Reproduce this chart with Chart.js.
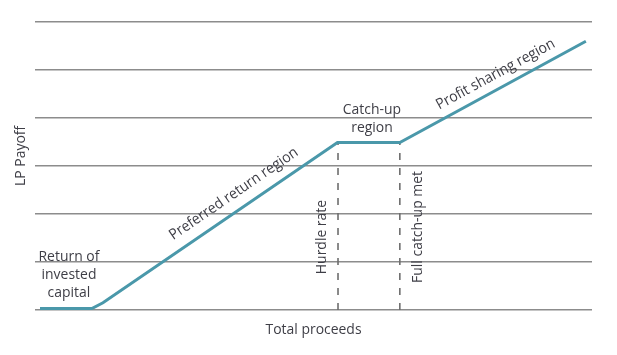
<!DOCTYPE html>
<html>
<head>
<meta charset="utf-8">
<script src="https://cdn.jsdelivr.net/npm/chart.js@4.4.1/dist/chart.umd.min.js"></script>
<style>
html,body{margin:0;padding:0;background:#fff;}
#wrap{width:617px;height:355px;position:relative;}
</style>
</head>
<body>
<div id="wrap"><canvas id="c" width="617" height="355"></canvas></div>
<script>
// Payoff curve (x = total proceeds, y = LP payoff)
const payoffX = [0.09, 1.02, 1.22, 5.43, 6.55, 9.89];
const payoffY = [0.03, 0.03, 0.15, 3.49, 3.49, 5.60];
// Vertical markers
const hurdleX = 5.44;
const catchupX = 6.55;
const markerTopY = 3.49;
const yTicks = [0, 1, 2, 3, 4, 5, 6];
const xTitle = 'Total proceeds';
const yTitle = 'LP Payoff';
// Text labels (data coordinates)
const labelTexts = [['Return of', 'invested', 'capital'], ['Preferred return region'], ['Catch-up', 'region'], ['Profit sharing region'], ['Hurdle rate'], ['Full catch-up met']];
const labelX = [0.61, 3.57, 6.05, 8.27, 5.15, 6.88];
const labelY = [0.73, 2.42, 3.98, 4.91, 1.52, 1.73];

const textColor = '#3e3e46';
const fontFamily = '"Open Sans", "Noto Sans", sans-serif';
const fontSize = 15;
const squeeze = 0.93;

function pts(xs, ys){ return xs.map((x,i)=>({x:x, y:ys[i]})); }

const rotations = [null, 'seg2', null, 'seg4', -90, -90];

const labelPlugin = {
  id: 'labels',
  afterDatasetsDraw(chart){
    const ctx = chart.ctx;
    const xs = chart.scales.x, ys = chart.scales.y;
    const ca = chart.chartArea;
    ctx.save();
    ctx.fillStyle = textColor;
    ctx.font = fontSize + 'px ' + fontFamily;
    ctx.textAlign = 'center';
    ctx.textBaseline = 'middle';
    function segAngle(i){
      const x1 = xs.getPixelForValue(payoffX[i]), y1 = ys.getPixelForValue(payoffY[i]);
      const x2 = xs.getPixelForValue(payoffX[i+1]), y2 = ys.getPixelForValue(payoffY[i+1]);
      return Math.atan2(y2-y1, x2-x1);
    }
    function drawText(lines, px, py, ang){
      ctx.save();
      ctx.translate(px, py);
      ctx.rotate(ang);
      ctx.scale(squeeze, 1);
      const lh = 18;
      lines.forEach((t, j) => {
        ctx.fillText(t, 0, (j - (lines.length-1)/2) * lh);
      });
      ctx.restore();
    }
    labelTexts.forEach((lines, k) => {
      const px = xs.getPixelForValue(labelX[k]);
      const py = ys.getPixelForValue(labelY[k]);
      let ang = 0;
      const r = rotations[k];
      if (r === 'seg2') ang = segAngle(2);
      else if (r === 'seg4') ang = segAngle(4);
      else if (typeof r === 'number') ang = r*Math.PI/180;
      drawText(lines, px, py, ang);
    });
    // axis titles
    drawText([xTitle], (ca.left+ca.right)/2, ca.bottom + 20, 0);
    drawText([yTitle], ca.left - 14, ys.getPixelForValue(3.21), -Math.PI/2);
    ctx.restore();
  }
};

new Chart(document.getElementById('c'), {
  type: 'scatter',
  data: {
    datasets: [
      {
        data: pts(payoffX, payoffY),
        showLine: true,
        borderColor: '#4a98aa',
        borderWidth: 3,
        pointRadius: 0,
        tension: 0,
        order: 0
      },
      {
        data: [{x: hurdleX, y: 0}, {x: hurdleX, y: markerTopY}],
        showLine: true,
        borderColor: '#6e6e6e',
        borderWidth: 1.6,
        borderDash: [7, 8],
        pointRadius: 0,
        order: 1
      },
      {
        data: [{x: catchupX, y: 0}, {x: catchupX, y: markerTopY}],
        showLine: true,
        borderColor: '#6e6e6e',
        borderWidth: 1.6,
        borderDash: [7, 8],
        pointRadius: 0,
        order: 1
      }
    ]
  },
  options: {
    responsive: false,
    animation: false,
    events: [],
    layout: { padding: { left: 35, right: 25, top: 22, bottom: 45 } },
    plugins: { legend: { display: false }, tooltip: { enabled: false } },
    scales: {
      x: { type: 'linear', min: 0, max: 10, display: false },
      y: {
        type: 'linear', min: 0, max: 6,
        afterBuildTicks: (s) => { s.ticks = yTicks.map(v => ({value: v})); },
        ticks: { display: false },
        border: { display: false },
        grid: { color: '#8c8c8c', lineWidth: 1.5, drawTicks: false }
      }
    }
  },
  plugins: [labelPlugin]
});
</script>
</body>
</html>
